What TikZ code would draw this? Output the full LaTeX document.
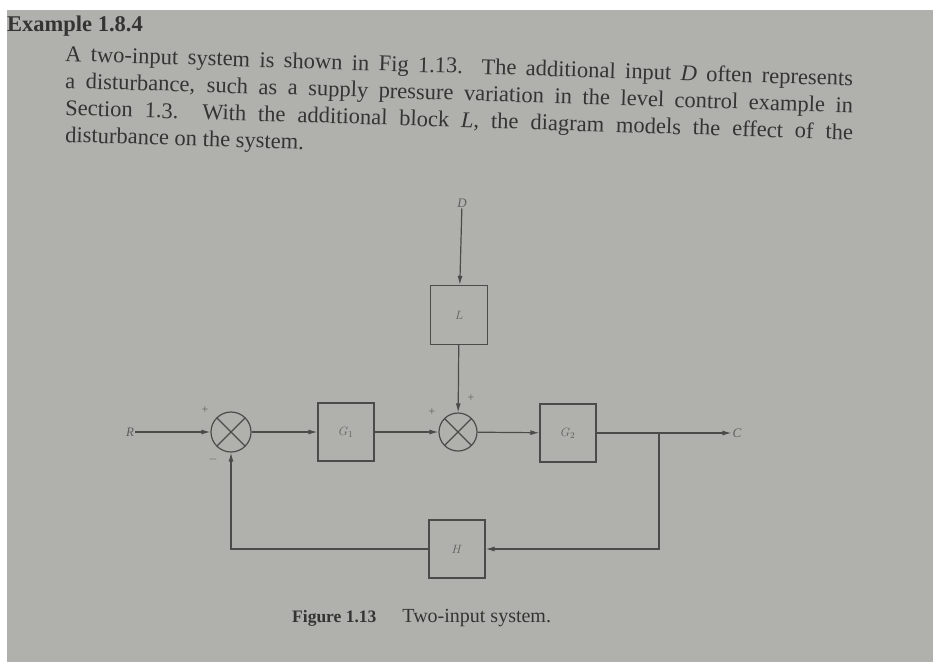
\documentclass[tikz,border=0pt]{standalone}
\usepackage{amsmath, amssymb}
\usepackage{fontspec}
\setmainfont{Liberation Serif}
\usepackage{tikz}
\usetikzlibrary{arrows.meta}

\definecolor{page}{RGB}{176,176,173}
\definecolor{ink}{RGB}{52,52,50}
\definecolor{wire}{RGB}{75,75,73}
\definecolor{lab}{RGB}{95,95,93}

\tikzset{
  block/.style={draw=wire, line width=1.2pt, minimum width=56pt, minimum height=58pt, inner sep=0pt, text=lab, font=\fontsize{13}{13}\selectfont},
  summer/.style={draw=wire, line width=1.2pt, circle, minimum size=38pt, inner sep=0pt,
    path picture={\draw[wire, line width=1.2pt]
      ([shift={(45:20pt)}]path picture bounding box.center) -- ([shift={(225:20pt)}]path picture bounding box.center)
      ([shift={(135:20pt)}]path picture bounding box.center) -- ([shift={(315:20pt)}]path picture bounding box.center);}},
  sig/.style={text=lab, font=\fontsize{13}{13}\selectfont\itshape, inner sep=1pt},
  sgn/.style={text=lab, font=\fontsize{12}{12}\selectfont, inner sep=0pt},
  textline/.style={anchor=base west, rotate=-1.8, text=ink, inner sep=0pt, font=\fontsize{22.5}{26}\selectfont}
}

\begin{document}
\begin{tikzpicture}[x=1pt, y=-1pt, >={Latex[length=9pt,width=5pt]}]
\useasboundingbox (0,0) rectangle (933,662);
\fill[white] (0,0) rectangle (933,662);
\fill[page] (7,10) rectangle (933,662);

% text of the page
\node[anchor=base west, text=ink, font=\fontsize{22.5}{26}\selectfont\bfseries, inner sep=0pt] (head) at (7,31) {Example 1.8.4};
\node[textline] (line1) at (65,61) {\makebox[788pt][s]{A two-input system is shown in Fig 1.13.\ \ The additional input \textit{D} often represents}};
\node[textline] (line2) at (65,88) {\makebox[788pt][s]{a disturbance, such as a supply pressure variation in the level control example in}};
\node[textline] (line3) at (65,115) {\makebox[788pt][s]{Section 1.3.\ \ With the additional block \textit{L}, the diagram models the effect of the}};
\node[textline] (line4) at (65,142) {disturbance on the system.};

% blocks and junctions
\node[sig] (D) at (462,203) {D};
\node[block, minimum width=57pt, minimum height=59pt] (L) at (459,315) {$L$};
\node[summer, minimum size=40pt] (s1) at (231,432) {};
\node[block] (G1) at (346,432) {$G_1$};
\node[summer] (s2) at (458,432) {};
\node[block] (G2) at (568,433) {$G_2$};
\node[block] (H) at (457,549) {$H$};
\node[sig] (R) at (130,432) {R};
\node[sig] (C) at (737,433) {C};
\coordinate (tap) at (659,433);

\draw[wire, line width=1.2pt, ->] (D) -- (L);
\draw[wire, line width=1.2pt, ->] (L) -- (s2);
\draw[wire, line width=1.2pt, ->] (R) -- (s1);
\draw[wire, line width=1.2pt, ->] (s1) -- (G1);
\draw[wire, line width=1.2pt, ->] (G1) -- (s2);
\draw[wire, line width=1.2pt, ->] (s2) -- (G2);
\draw[wire, line width=1.2pt, ->] (G2) -- (C);
\draw[wire, line width=1.2pt, ->] (tap) |- (H);
\draw[wire, line width=1.2pt, ->] (H) -| (s1);

\node[sgn] (p1) at (205,410) {+};
\node[sgn] (m1) at (213,459) {$-$};
\node[sgn] (p2) at (432,412) {+};
\node[sgn] (p3) at (471,398) {+};

\node[anchor=base west, text=ink, inner sep=0pt] (cap) at (292,622)
  {\fontsize{17.5}{18}\selectfont\textbf{Figure 1.13}\hspace{26pt}\fontsize{20}{20}\selectfont Two-input system.};
\end{tikzpicture}
\end{document}
